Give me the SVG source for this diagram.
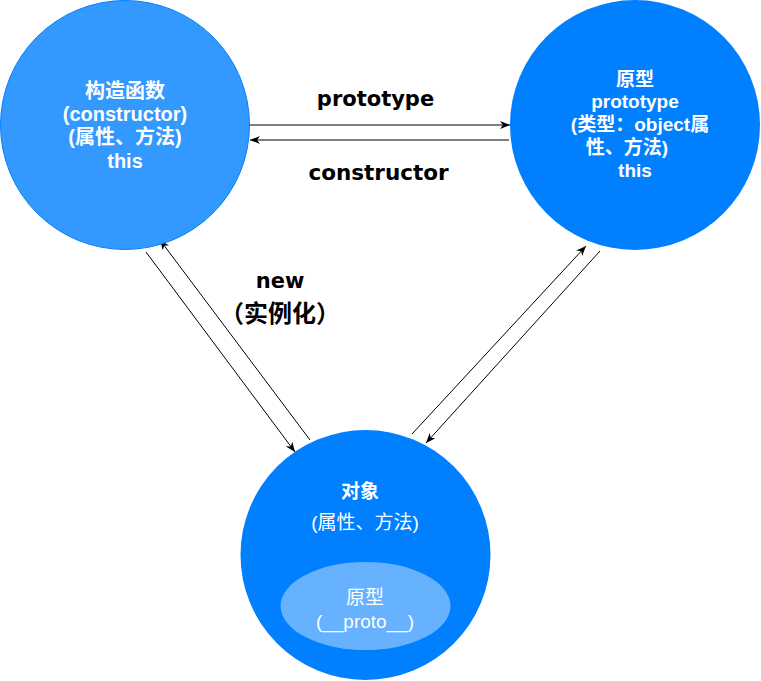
<svg xmlns="http://www.w3.org/2000/svg" width="761" height="681" viewBox="0 0 761 681">
<style>
.node-text{font-family:"Liberation Sans","Noto Sans CJK SC",sans-serif;fill:#ffffff;text-anchor:middle}
.b{font-weight:bold}
.lbl{font-family:"DejaVu Sans","Noto Sans CJK SC",sans-serif;font-weight:bold;fill:#000000;text-anchor:middle}
.conn{stroke:#000000;stroke-width:1;fill:none;marker-end:url(#arrow)}
</style>
<defs>
<marker id="arrow" markerUnits="userSpaceOnUse" viewBox="0 0 10 8" refX="10" refY="4" markerWidth="10" markerHeight="8" orient="auto">
<path d="M0,0 L10,4 L0,8 L3,4 Z" fill="#000000"/>
</marker>
</defs>
<rect width="761" height="681" fill="#ffffff"/>
<g id="connectors">
<line class="conn" x1="250" y1="125" x2="510" y2="125"/>
<line class="conn" x1="509" y1="140" x2="250" y2="140"/>
<line class="conn" x1="146" y1="252" x2="295" y2="452"/>
<line class="conn" x1="310" y1="440" x2="160" y2="240"/>
<line class="conn" x1="412" y1="434" x2="586" y2="246"/>
<line class="conn" x1="600" y1="251" x2="426" y2="443"/>
</g>
<g id="constructor-node">
<circle cx="125" cy="125" r="124.5" fill="#3399FF" stroke="#007FFF" stroke-width="1"/>
<text class="node-text b" font-size="20" x="125" y="98">构造函数</text>
<text class="node-text b" font-size="20" x="125" y="120.5">(constructor)</text>
<text class="node-text b" font-size="20" x="125" y="144">(属性、方法)</text>
<text class="node-text b" font-size="20" x="125" y="167.5">this</text>
</g>
<g id="prototype-node">
<circle cx="635" cy="125" r="125" fill="#007FFF"/>
<text class="node-text b" font-size="19" x="635" y="85.5">原型</text>
<text class="node-text b" font-size="19" x="635" y="108">prototype</text>
<text class="node-text b" font-size="19" x="640" y="131">(类型：object属</text>
<text class="node-text b" font-size="19" x="627" y="154">性、方法)</text>
<text class="node-text b" font-size="19" x="635" y="176.5">this</text>
</g>
<g id="object-node">
<circle cx="365.5" cy="555" r="125" fill="#007FFF"/>
<text class="node-text b" font-size="19" x="360" y="498">对象</text>
<text class="node-text" font-size="19" x="365" y="529">(属性、方法)</text>
<g id="proto-node">
<ellipse cx="365.5" cy="606" rx="85" ry="44" fill="#66B2FF"/>
<text class="node-text" font-size="19" x="365" y="604">原型</text>
<text class="node-text" font-size="19" x="365" y="628">(__proto__)</text>
</g>
</g>
<g id="labels">
<text class="lbl" font-size="21" x="375.5" y="106">prototype</text>
<text class="lbl" font-size="21.5" x="378.5" y="180">constructor</text>
<text class="lbl" font-size="21" x="280" y="288">new</text>
<text class="lbl" font-size="24" x="280" y="322">（实例化）</text>
</g>
</svg>
